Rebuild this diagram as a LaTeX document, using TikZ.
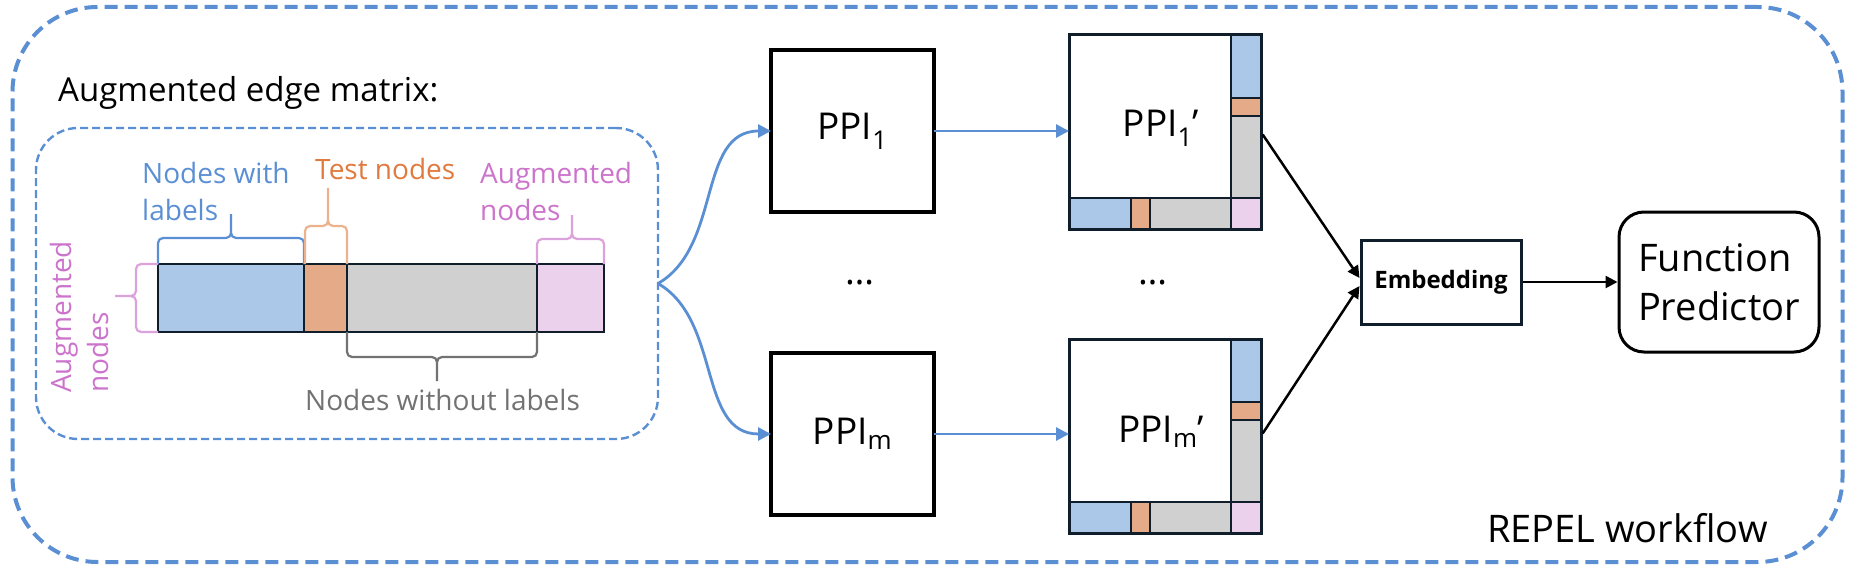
\documentclass[tikz,border=0pt]{standalone}
\usepackage{fontspec}
\setmainfont{Open Sans}
\usetikzlibrary{arrows.meta}

\definecolor{repblue}{RGB}{91,143,212}
\definecolor{cellblue}{RGB}{172,200,232}
\definecolor{cellorange}{RGB}{229,171,136}
\definecolor{cellgray}{RGB}{208,208,208}
\definecolor{cellpink}{RGB}{236,209,236}
\definecolor{cellline}{RGB}{16,30,44}
\definecolor{testorange}{RGB}{224,122,62}
\definecolor{braceorange}{RGB}{236,178,142}
\definecolor{augpink}{RGB}{204,116,204}
\definecolor{bracepink}{RGB}{220,162,220}
\definecolor{nolabgray}{RGB}{114,114,114}

\newcommand{\labfont}{\fontsize{28}{37}\selectfont}
\newcommand{\ppifont}{\fontsize{37}{44}\selectfont}
\newcommand{\bigfont}{\fontsize{38}{49}\selectfont}

\begin{document}
\begin{tikzpicture}[x=1pt, y=-1pt,
  outerframe/.style={draw=repblue, line width=4pt, dash pattern=on 13pt off 7pt, rounded corners=85pt, inner sep=0pt, outer sep=0pt, anchor=north west},
  innerframe/.style={draw=repblue, line width=2.4pt, dash pattern=on 8pt off 4pt, rounded corners=42pt, inner sep=0pt, outer sep=0pt, anchor=north west},
  cell/.style={draw=cellline, line width=2.8pt},
  ppibox/.style={draw, line width=3.2pt, minimum width=163pt, minimum height=162pt, inner sep=0pt, outer sep=0pt, anchor=north west, font=\ppifont},
  primebox/.style={draw=cellline, line width=3pt, minimum width=192pt, minimum height=194pt, inner sep=0pt, outer sep=0pt, anchor=north west},
  lab/.style={inner sep=0pt, font=\labfont},
  curly/.style={line width=2.2pt, rounded corners=5pt},
  flow/.style={draw=repblue, line width=2.8pt, -{Triangle[length=13pt, width=13pt]}},
  merge/.style={draw=black, line width=2.5pt, -{Triangle[length=12pt, width=12pt]}},
]
  \useasboundingbox (0,0) rectangle (1854,572);

  %coordinates
  \coordinate (REPELBox) at (12.5,7);
  \coordinate (EdgeBox)  at (36,128);
  \coordinate (PPIOne)   at (771,50);
  \coordinate (PPIEm)    at (771,353);

  %frames
  \node[outerframe, minimum width=1830pt, minimum height=555pt] (repel) at (REPELBox) {};
  \node[innerframe, minimum width=622pt, minimum height=311pt] (mat) at (EdgeBox) {};
  \node[anchor=base west, inner sep=0pt, font=\fontsize{33}{40}\selectfont] (title) at (58,102) {Augmented edge matrix:};
  \node[anchor=base west, inner sep=0pt, font=\bigfont] (wf) at (1487,542) {REPEL workflow};

  %edge matrix row
  \draw[cell, fill=cellblue]   (158,264) rectangle (304,332);
  \draw[cell, fill=cellorange] (304,264) rectangle (347,332);
  \draw[cell, fill=cellgray]   (347,264) rectangle (537,332);
  \draw[cell, fill=cellpink]   (537,264) rectangle (604,332);

  %braces
  \draw[curly, repblue] (158,264) -- (158,238) -- (231,238) -- (231,214)
                        (304,264) -- (304,238) -- (231,238) -- (231,214);
  \draw[curly, braceorange] (305,264) -- (305,226) -- (328,226) -- (328,188)
                            (347,264) -- (347,226) -- (328,226) -- (328,188);
  \draw[curly, bracepink] (537,264) -- (537,239) -- (572,239) -- (572,215)
                          (604,264) -- (604,239) -- (572,239) -- (572,215);
  \draw[curly, nolabgray] (347,332) -- (347,357) -- (437,357) -- (437,381)
                          (537,332) -- (537,357) -- (437,357) -- (437,381);
  \draw[curly, bracepink] (158,264) -- (136,264) -- (136,296) -- (115,296)
                          (158,332) -- (136,332) -- (136,296) -- (115,296);

  %labels
  \node[lab, text=repblue, align=left, anchor=north west] (withlab) at (142,161.7) {Nodes with\\labels};
  \node[lab, text=testorange, anchor=base west] (testlab) at (315,180) {Test nodes};
  \node[lab, text=augpink, align=left, anchor=north west] (auglab) at (480,161.7) {Augmented\\nodes};
  \node[lab, text=nolabgray, anchor=base west] (nolab) at (305,410) {Nodes without labels};
  \node[lab, text=augpink, align=left, anchor=north west, rotate=90] (augside) at (50,393) {Augmented\\nodes};

  %PPI graphs
  \node[ppibox] (ppione) at (PPIOne) {PPI\textsubscript{1}};
  \node[ppibox] (ppiem) at (PPIEm) {PPI\textsubscript{m}};
  \node[font=\ppifont, inner sep=0pt] (dotsa) at (860,283) {…};
  \node[font=\ppifont, inner sep=0pt] (dotsb) at (1153,283) {…};

  %augmented PPI graphs
  \foreach \name/\yy/\sub in {one/35/1, em/339/m} {
    \begin{scope}[shift={(0,\yy)}]
      \draw[cell, fill=cellblue]   (1231,0)   rectangle (1261,63);
      \draw[cell, fill=cellorange] (1231,63)  rectangle (1261,81);
      \draw[cell, fill=cellgray]   (1231,81)  rectangle (1261,163);
      \draw[cell, fill=cellpink]   (1231,163) rectangle (1261,194);
      \draw[cell, fill=cellblue]   (1069,163) rectangle (1131,194);
      \draw[cell, fill=cellorange] (1131,163) rectangle (1150,194);
      \draw[cell, fill=cellgray]   (1150,163) rectangle (1231,194);
      \node[primebox] (p\name) at (1069,0) {};
      \node[font=\ppifont, inner sep=0pt] (t\name) at (1161,93) {PPI\textsubscript{\sub}’};
    \end{scope}
  }

  %right part
  \node[draw=cellline, line width=3pt, minimum width=160pt, minimum height=84pt, inner sep=0pt,
        font=\fontsize{24}{29}\selectfont\bfseries] (emb) at (1441,282) {Embedding};
  \node[draw, line width=3pt, rounded corners=25pt, minimum width=200pt, minimum height=140pt,
        inner sep=0pt, align=left, font=\bigfont] (pred) at (1719,282) {Function\\Predictor};

  %arrows
  \draw[flow] (mat.east) to[out=30, in=180] (ppione.west);
  \draw[flow] (mat.east) to[out=-30, in=180] (ppiem.west);
  \draw[flow] (ppione.east) -- (ppione.east -| pone.west);
  \draw[flow] (ppiem.east) -- (ppiem.east -| pem.west);
  \draw[merge, shorten <=3pt] (pone.east) -- ([yshift=4pt]emb.west);
  \draw[merge, shorten <=3pt] (pem.east) -- ([yshift=-4pt]emb.west);
  \draw[merge] (emb) -- (pred);
\end{tikzpicture}
\end{document}
